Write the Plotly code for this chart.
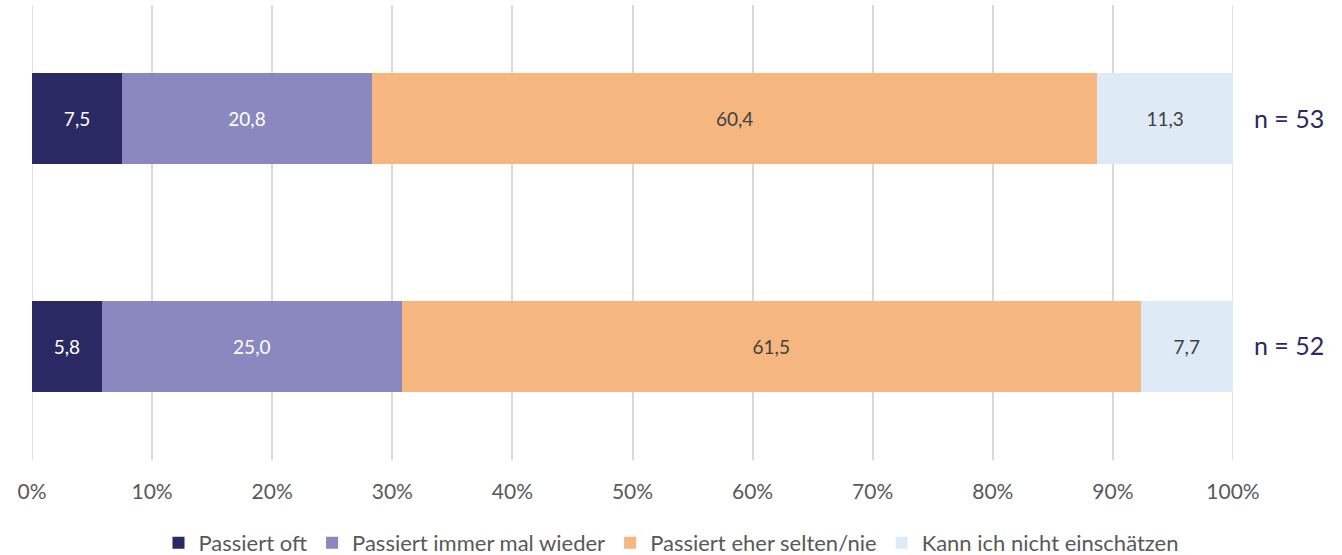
import plotly.graph_objects as go

categories = ["n = 53", "n = 52"]
series_names = ["Passiert oft", "Passiert immer mal wieder", "Passiert eher selten/nie", "Kann ich nicht einschätzen"]
passiert_oft = [7.5, 5.8]
immer_mal_wieder = [20.8, 25.0]
eher_selten_nie = [60.4, 61.5]
nicht_einschaetzen = [11.3, 7.7]
tick_vals = [0, 10, 20, 30, 40, 50, 60, 70, 80, 90, 100]
tick_text = ["0%", "10%", "20%", "30%", "40%", "50%", "60%", "70%", "80%", "90%", "100%"]

values = [passiert_oft, immer_mal_wieder, eher_selten_nie, nicht_einschaetzen]
colors = ["#2a2963", "#8b88c0", "#f5b680", "#deebf7"]
text_colors = ["#ffffff", "#ffffff", "#404040", "#404040"]

FONT = "Lato, 'Open Sans', sans-serif"

W, H = 1342, 555

fig = go.Figure()
for name, vals, col, tcol in zip(series_names, values, colors, text_colors):
    fig.add_trace(go.Bar(
        y=categories, x=vals, name=name, orientation="h",
        marker=dict(color=col, line=dict(width=0)),
        width=0.4,
        texttemplate="%{x:.1f}", textposition="inside", insidetextanchor="middle",
        textfont=dict(color=tcol, size=19, family=FONT),
        hoverinfo="skip",
    ))

fig.update_layout(
    barmode="stack",
    separators=",.",
    width=W, height=H,
    margin=dict(l=32, r=109, t=5, b=95, autoexpand=False),
    paper_bgcolor="white", plot_bgcolor="white",
    font=dict(family=FONT, color="#595959", size=19),
    showlegend=True,
    legend=dict(orientation="h", x=0.5, xanchor="center", xref="container",
                y=12 / H, yanchor="middle", yref="container",
                font=dict(size=22, color="#595959", family=FONT),
                traceorder="normal", itemwidth=30, tracegroupgap=0),
    xaxis=dict(range=[0, 100], tickvals=tick_vals, ticktext=tick_text,
               showgrid=True, gridcolor="#d9d9d9", gridwidth=1.5,
               zeroline=False, showline=False, ticks="", ticklabelstandoff=17,
               automargin=False,
               tickfont=dict(size=21, color="#595959", family=FONT)),
    yaxis=dict(autorange="reversed", side="right", showgrid=False, zeroline=False,
               automargin=False,
               showline=False, ticks="", ticklabelstandoff=20,
               tickfont=dict(size=25, color="#2a2963", family=FONT)),
)
fig.add_shape(type="line", xref="x", yref="y domain", x0=0, x1=0, y0=0, y1=1,
              line=dict(color="#d9d9d9", width=1.5), layer="below")
fig.add_shape(type="line", xref="x", yref="y domain", x0=100, x1=100, y0=0, y1=1,
              line=dict(color="#d9d9d9", width=1.5), layer="below")

fig.write_html("out.html")
